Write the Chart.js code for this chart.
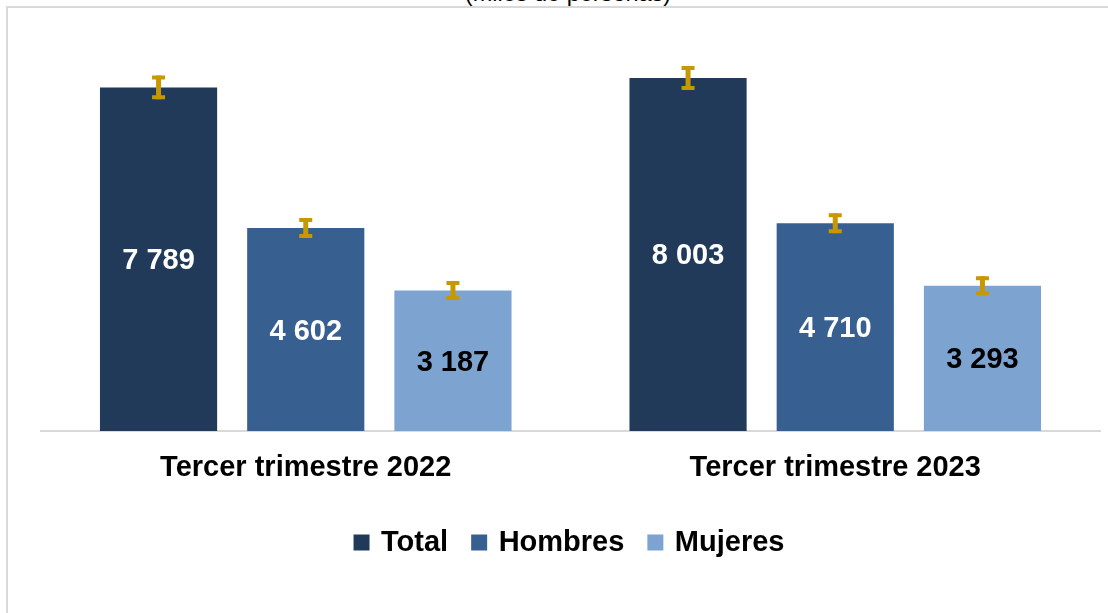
<!DOCTYPE html>
<html>
<head>
<meta charset="utf-8">
<script src="https://cdn.jsdelivr.net/npm/chart.js@4.4.0/dist/chart.umd.min.js"></script>
<style>
  html, body { margin: 0; padding: 0; background: #fff; }
  body { width: 1108px; height: 613px; position: relative; overflow: hidden; font-family: "Liberation Sans", Arial, sans-serif; }
  .frame { position: absolute; left: 6px; top: 6px; width: 1120px; height: 640px; border-left: 2px solid #d9d9d9; border-top: 2px solid #d9d9d9; }
  .subtitle { position: absolute; left: 0; width: 1136px; top: -20px; text-align: center; font-size: 23.5px; color: #000; }
  .chart-box { position: absolute; left: 0; top: 0; width: 1108px; height: 613px; }
</style>
</head>
<body>
<div class="frame"></div>
<div class="subtitle">(miles de personas)</div>
<div class="chart-box"><canvas id="myChart"></canvas></div>

<script>
// ---------- data ----------
const categories = ['Tercer trimestre 2022', 'Tercer trimestre 2023'];
const seriesNames = ['Total', 'Hombres', 'Mujeres'];
const totalValues = [7789, 8003];
const hombresValues = [4602, 4710];
const mujeresValues = [3187, 3293];
// error margins
const totalErrors = [270, 270];
const hombresErrors = [225, 225];
const mujeresErrors = [215, 215];

const seriesColors = ['#213a5a', '#376091', '#7da4d1'];
const labelColors = ['#ffffff', '#ffffff', '#000000'];
const errorColor = '#c89800';

function fmt(n) {
	return String(n).replace(/\B(?=(\d{3})+(?!\d))/g, ' ');
}

// value labels inside the bars
const barLabels = {
	id: 'barLabels',
	afterDatasetsDraw(chart) {
		const ctx = chart.ctx;
		ctx.save();
		ctx.font = 'bold 29px "Liberation Sans", Arial, sans-serif';
		ctx.textAlign = 'center';
		ctx.textBaseline = 'middle';
		chart.data.datasets.forEach((ds, i) => {
			const meta = chart.getDatasetMeta(i);
			meta.data.forEach((bar, j) => {
				ctx.fillStyle = labelColors[i];
				ctx.fillText(fmt(ds.data[j]), bar.x, (bar.y + bar.base) / 2 + 2);
			});
		});
		ctx.restore();
	}
};

// error bars on top of each bar
const errorBars = {
	id: 'errorBars',
	afterDatasetsDraw(chart) {
		const ctx = chart.ctx;
		const y = chart.scales.y;
		ctx.save();
		ctx.strokeStyle = errorColor;
		chart.data.datasets.forEach((ds, i) => {
			const meta = chart.getDatasetMeta(i);
			meta.data.forEach((bar, j) => {
				const v = ds.data[j];
				const e = ds.errors[j];
				const top = y.getPixelForValue(v + e);
				const bot = y.getPixelForValue(v - e);
				ctx.lineWidth = 5;
				ctx.beginPath();
				ctx.moveTo(bar.x, top);
				ctx.lineTo(bar.x, bot);
				ctx.stroke();
				ctx.lineWidth = 4;
				ctx.beginPath();
				ctx.moveTo(bar.x - 6.5, top + 2);
				ctx.lineTo(bar.x + 6.5, top + 2);
				ctx.moveTo(bar.x - 6.5, bot - 2);
				ctx.lineTo(bar.x + 6.5, bot - 2);
				ctx.stroke();
			});
		});
		ctx.restore();
	}
};

const ctx = document.getElementById('myChart').getContext('2d');
new Chart(ctx, {
	type: 'bar',
	data: {
		labels: categories,
		datasets: [
			{ label: seriesNames[0], data: totalValues, errors: totalErrors, backgroundColor: seriesColors[0] },
			{ label: seriesNames[1], data: hombresValues, errors: hombresErrors, backgroundColor: seriesColors[1] },
			{ label: seriesNames[2], data: mujeresValues, errors: mujeresErrors, backgroundColor: seriesColors[2] }
		]
	},
	options: {
		responsive: true,
		maintainAspectRatio: false,
		animation: false,
		categoryPercentage: 0.834,
		barPercentage: 0.796,
		layout: { padding: { left: 41, right: 8, top: 34, bottom: 46 } },
		scales: {
			x: {
				grid: { display: false },
				border: { display: true, color: '#d9d9d9', width: 2 },
				ticks: {
					color: '#000',
					padding: 12,
					font: { family: '"Liberation Sans", Arial, sans-serif', size: 29, weight: 'bold' }
				}
			},
			y: {
				display: false,
				min: 0,
				max: 9000
			}
		},
		plugins: {
			legend: {
				position: 'bottom',
				// empty title only used as extra space above the legend row
				title: { display: true, text: '', font: { size: 1 }, padding: { top: 3, bottom: 0 } },
				labels: {
					color: '#000',
					usePointStyle: true,
					pointStyle: 'rect',
					boxWidth: 10,
					boxHeight: 16,
					padding: 26,
					font: { family: '"Liberation Sans", Arial, sans-serif', size: 29, weight: 'bold' }
				}
			},
			tooltip: { enabled: false }
		}
	},
	plugins: [barLabels, errorBars]
});
</script>
</body>
</html>
